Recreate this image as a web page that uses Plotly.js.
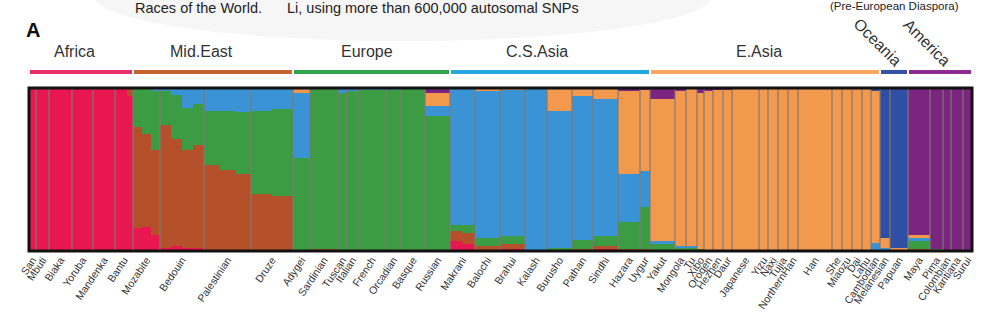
<!DOCTYPE html>
<html><head><meta charset="utf-8">
<script src="https://cdn.plot.ly/plotly-3.0.1.min.js"></script>
<style>html,body{margin:0;padding:0;background:#fff;}#chart{width:1000px;height:327px;}</style>
</head><body><div id="chart"></div>
<script>
// ---- DATA ----
const clusterNames = ['Africa','Mid.East','Europe','C.S.Asia','E.Asia','Oceania','America'];
const regionNames = ['Africa','Mid.East','Europe','C.S.Asia','E.Asia','Oceania','America'];
const populations = ['San','Mbuti','Biaka','Yoruba','Mandenka','Bantu','Mozabite','Bedouin','Palestinian','Druze',
  'Adygei','Sardinian','Tuscan','Italian','French','Orcadian','Basque','Russian',
  'Makrani','Balochi','Brahui','Kalash','Burusho','Pathan','Sindhi','Hazara','Uygur',
  'Yakut','Mongola','Tu','Xibo','Oroqen','Hezhen','Daur','Japanese','Yizu','Naxi','Tujia','NorthernHan','Han','She','Miaozu','Dai','Lahu','Cambodian',
  'Melanesian','Papuan','Maya','Pima','Colombian','Karitiana','Surui'];
const popRegion = [0,0,0,0,0,0, 1,1,1,1, 2,2,2,2,2,2,2,2, 3,3,3,3,3,3,3,3,3,
  4,4,4,4,4,4,4,4,4,4,4,4,4,4,4,4,4,4, 5,5, 6,6,6,6,6];
// column groups (population index and number of individuals shown)
const segPop = [0,1,2,3,4,5,5, 6,6,6,7,7,7,7,8,8,8,9,9, 10,11,12,13,14,15,16,17,
  18,18,19,20,21,22,23,24,25,26,
  27,28,29,30,31,32,33,34,35,36,37,38,39,40,41,42,43,44, 45,46, 47,48,49,50,51];
const segWidth = [7,13,23,21,22,12,6, 9,9,9,11,11,11,11,16,16,15,21,21, 17,28,9,11,28,15,24,25,
  12,13,25,25,22,25,21,25,22,10,
  25,11,11,7,9,10,9,27,9,10,10,10,34,10,10,10,9,9, 10,18, 22,13,8,12,9];
// ancestry proportions per column group (K = 7)
const africaK = [1,1,1,1,1,1,.95, .14,.15,.10,.02,.03,.02,.02,0,0,0,0,0, 0,0,0,0,0,0,0,0,
  .06,.04,0,.01,0,0,0,.01,0,0,
  0,0,0,0,0,0,0,0,0,0,0,0,0,0,0,0,0,0, 0,0, 0,0,0,0,0];
const midEastK = [0,0,0,0,0,0,.05, .62,.57,.52,.75,.66,.60,.63,.53,.50,.47,.35,.34, 0,.01,0,0,0,0,0,0,
  .06,.07,.03,.03,0,0,.01,.02,.01,.01,
  0,0,0,0,0,0,0,0,0,0,0,0,0,0,0,0,0,0, 0,0, .01,0,0,0,0];
const europeK = [0,0,0,0,0,0,0, .24,.28,.36,.21,.27,.26,.25,.33,.36,.38,.51,.53, .57,.99,.97,.98,.99,.99,1,.83,
  .04,.05,.05,.05,0,.02,.06,.06,.17,.26,
  .04,.02,.02,.01,0,0,0,0,0,0,0,0,0,0,0,0,0,0, 0,0, .05,.01,0,0,0];
const csAsiaK = [0,0,0,0,0,0,0, 0,0,.02,.02,.04,.12,.10,.14,.14,.15,.14,.13, .40,0,.03,.02,.01,.01,0,.06,
  .84,.84,.90,.90,1,.84,.88,.84,.29,.22,
  .02,.01,.01,0,0,0,0,0,0,0,0,0,0,0,0,0,0,.05, .02,0, .02,0,0,0,0];
const eAsiaK = [0,0,0,0,0,0,0, 0,0,0,0,0,0,0,0,0,0,0,0, .03,0,0,0,0,0,0,.08,
  0,0,.02,.01,0,.14,.05,.07,.51,.50,
  .87,.95,.97,.96,.98,.99,.99,1,1,1,1,1,1,1,1,1,1,.93, .06,.02, .02,0,0,0,0];
const oceaniaK = [0,0,0,0,0,0,0, 0,0,0,0,0,0,0,0,0,0,0,0, 0,0,0,0,0,0,0,0,
  0,0,0,0,0,0,0,0,0,0,
  0,0,0,0,0,0,0,0,0,0,0,0,0,0,0,0,0,.02, .92,.98, 0,0,0,0,0];
const americaK = [0,0,0,0,0,0,0, 0,0,0,0,0,0,0,0,0,0,0,0, 0,0,0,0,0,0,0,.03,
  0,0,0,0,0,0,0,0,.02,.01,
  .07,.02,0,.03,.02,.01,.01,0,0,0,0,0,0,0,0,0,0,0, 0,0, .90,.99,1,1,1];

// ---- STYLE ----
const clusterColors = ['#e8174f','#b4502a','#3c9c44','#3a93d5','#f2994e','#2f4fa4','#7b2580'];
const regionColors = ['#ec2e68','#c4652c','#33a34b','#27a6e0','#f7a961','#3553a3','#8d2a8f'];
const FONT = 'Liberation Sans, Arial, Helvetica, sans-serif';
const M = {l:29, r:28, t:88, b:76};
const W = 1000, H = 327, PW = W - M.l - M.r, PH = H - M.t - M.b;
const py = p => (H - M.b - p) / PH;      // pixel y -> paper y
const px = p => (p - M.l) / PW;          // pixel x -> paper x

// ---- DERIVED ----
const segCenter = []; let acc = 0;
segWidth.forEach(w => { segCenter.push(acc + w/2); acc += w; });
const total = acc;
const popWidth = populations.map(() => 0);
segPop.forEach((p,i) => popWidth[p] += segWidth[i]);
const popStart = []; acc = 0;
popWidth.forEach(w => { popStart.push(acc); acc += w; });
const popCenter = popStart.map((s,i) => s + popWidth[i]/2);

const series = [africaK, midEastK, europeK, csAsiaK, eAsiaK, oceaniaK, americaK];
const traces = series.map((vals,k) => ({
  type:'bar', x:segCenter, y:vals, width:segWidth.map(w => w + 0.35),
  name:clusterNames[k], marker:{color:clusterColors[k], line:{width:0}}, hoverinfo:'skip'
}));

const shapes = [];
// soft background blob behind title
shapes.push({type:'circle', xref:'paper', yref:'paper', layer:'below', x0:px(95), x1:px(712), y0:py(41), y1:py(-48),
  fillcolor:'#f6f6f6', line:{width:0}});
// population separators
for (let i = 1; i < populations.length; i++) {
  shapes.push({type:'line', xref:'x', yref:'paper', x0:popStart[i], x1:popStart[i], y0:0, y1:1,
    line:{color:'rgba(128,122,118,0.9)', width:1.3}});
}
// region bars
const regStart = [], regEnd = [];
regionNames.forEach((r,k) => {
  const idx = popRegion.map((g,i) => g === k ? i : -1).filter(i => i >= 0);
  regStart.push(popStart[idx[0]]);
  regEnd.push(popStart[idx[idx.length-1]] + popWidth[idx[idx.length-1]]);
});
regionNames.forEach((r,k) => {
  shapes.push({type:'line', xref:'x', yref:'paper', x0:regStart[k] + 1, x1:regEnd[k] - 1,
    y0:py(72), y1:py(72), line:{color:regionColors[k], width:4}});
});
// frame
shapes.push({type:'rect', xref:'paper', yref:'paper', x0:0, x1:1, y0:0, y1:1, line:{color:'#111', width:3}});

const annotations = [];
const regShift = [-7,-12,-5,-13,-6,-16,-13];
regionNames.forEach((r,k) => {
  const c = (regStart[k] + regEnd[k]) / 2;
  if (k < 5) {
    annotations.push({text:r, x:c, xref:'x', y:py(52), yref:'paper', xshift:regShift[k], showarrow:false,
      xanchor:'center', yanchor:'middle', font:{family:FONT, size:16, color:'#333'}});
  } else {
    annotations.push({text:r, x:c, xref:'x', y:py(42), yref:'paper', xshift:regShift[k], showarrow:false,
      textangle:45, xanchor:'center', yanchor:'middle', font:{family:FONT, size:16, color:'#333'}});
  }
});
annotations.push({text:'<b>A</b>', x:px(24), xref:'paper', y:py(30), yref:'paper', showarrow:false,
  xanchor:'left', yanchor:'middle', font:{family:FONT, size:20, color:'#111'}});
annotations.push({text:'Races of the World.', x:px(133), xref:'paper', y:py(8), yref:'paper', showarrow:false,
  xanchor:'left', yanchor:'middle', font:{family:FONT, size:14.5, color:'#222'}});
annotations.push({text:'Li, using more than 600,000 autosomal SNPs', x:px(285), xref:'paper', y:py(8), yref:'paper', showarrow:false,
  xanchor:'left', yanchor:'middle', font:{family:FONT, size:14.5, color:'#222'}});
annotations.push({text:'(Pre-European Diaspora)', x:px(828), xref:'paper', y:py(6), yref:'paper', showarrow:false,
  xanchor:'left', yanchor:'middle', font:{family:FONT, size:11.5, color:'#222'}});

const layout = {
  width:W, height:H, margin:M, barmode:'stack', bargap:0, showlegend:false,
  paper_bgcolor:'#fff', plot_bgcolor:'#fff',
  xaxis:{range:[0,total], showgrid:false, zeroline:false, showline:false, ticks:'',
    tickvals:popCenter, ticktext:populations, tickangle:-56,
    tickfont:{family:FONT, size:10.5, color:'#333'}},
  yaxis:{range:[0,1], visible:false, fixedrange:true},
  shapes:shapes, annotations:annotations
};
Plotly.newPlot('chart', traces, layout, {staticPlot:true, displayModeBar:false});
</script></body></html>
